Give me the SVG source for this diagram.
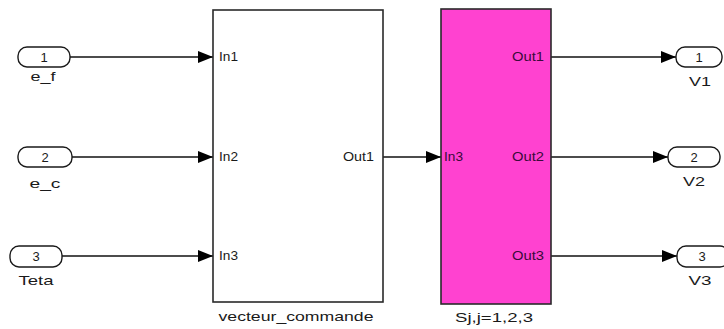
<svg xmlns="http://www.w3.org/2000/svg" width="724" height="329" viewBox="0 0 724 329">
  <defs>
    <style>
      .port { fill: #ffffff; stroke: #1a1a1a; stroke-width: 1.4; }
      .block { fill: #ffffff; stroke: #2a2a2a; stroke-width: 1.6; }
      .pink { fill: #ff42d0; stroke: #2a2a2a; stroke-width: 1.6; }
      .wire { fill: none; stroke: #111111; stroke-width: 1.3; marker-end: url(#arrow); }
      text { font-family: "Liberation Sans", Arial, sans-serif; fill: #1a1a1a; }
      .num { font-size: 13px; text-anchor: middle; }
      .lbl { font-size: 13.5px; text-anchor: middle; }
      .pin { font-size: 13px; }
      .pinr { font-size: 13px; text-anchor: end; }
      .pinp { font-size: 13px; fill: #3a0a3a; }
      .pinpr { font-size: 13px; fill: #3a0a3a; text-anchor: end; }
    </style>
    <marker id="arrow" viewBox="0 0 15 12" refX="15" refY="6" markerWidth="15" markerHeight="12" markerUnits="userSpaceOnUse" orient="auto">
      <path d="M0,0 L15,6 L0,12 Z" fill="#000000"/>
    </marker>
  </defs>

  <!-- signal lines -->
  <g id="connectors">
    <path class="wire" d="M70,57 H213"/>
    <path class="wire" d="M72,157 H213"/>
    <path class="wire" d="M62,256 H213"/>
    <path class="wire" d="M383,157 H441"/>
    <path class="wire" d="M551,57 H676"/>
    <path class="wire" d="M551,157 H668"/>
    <path class="wire" d="M551,256 H677"/>
  </g>

  <!-- inports -->
  <g id="in1">
    <rect class="port" x="18" y="47" width="52" height="20" rx="9" ry="9"/>
    <text class="num" x="44" y="62">1</text>
    <text class="lbl" x="43" y="81" textLength="25" lengthAdjust="spacingAndGlyphs">e_f</text>
  </g>
  <g id="in2">
    <rect class="port" x="18" y="147" width="54" height="20" rx="9" ry="9"/>
    <text class="num" x="45" y="162">2</text>
    <text class="lbl" x="45" y="188" textLength="31" lengthAdjust="spacingAndGlyphs">e_c</text>
  </g>
  <g id="in3">
    <rect class="port" x="10" y="246" width="52" height="21" rx="9" ry="9"/>
    <text class="num" x="36" y="261">3</text>
    <text class="lbl" x="36" y="285" textLength="35" lengthAdjust="spacingAndGlyphs">Teta</text>
  </g>

  <!-- subsystem: vecteur_commande -->
  <g id="vecteur_commande">
    <rect class="block" x="213" y="10" width="170" height="292"/>
    <text class="pin" x="219" y="61" textLength="19" lengthAdjust="spacingAndGlyphs">In1</text>
    <text class="pin" x="219" y="161" textLength="19" lengthAdjust="spacingAndGlyphs">In2</text>
    <text class="pin" x="219" y="260" textLength="19" lengthAdjust="spacingAndGlyphs">In3</text>
    <text class="pinr" x="374" y="161" textLength="31" lengthAdjust="spacingAndGlyphs">Out1</text>
    <text class="lbl" x="296" y="321" font-size="14" textLength="155" lengthAdjust="spacingAndGlyphs">vecteur_commande</text>
  </g>

  <!-- subsystem: Sj -->
  <g id="Sj">
    <rect class="pink" x="441" y="9" width="110" height="295"/>
    <text class="pinp" x="444" y="161" textLength="19" lengthAdjust="spacingAndGlyphs">In3</text>
    <text class="pinpr" x="544" y="61" textLength="32" lengthAdjust="spacingAndGlyphs">Out1</text>
    <text class="pinpr" x="544" y="161" textLength="32" lengthAdjust="spacingAndGlyphs">Out2</text>
    <text class="pinpr" x="544" y="260" textLength="32" lengthAdjust="spacingAndGlyphs">Out3</text>
    <text class="lbl" x="494" y="322" font-size="14" textLength="78" lengthAdjust="spacingAndGlyphs">Sj,j=1,2,3</text>
  </g>

  <!-- outports -->
  <g id="out1">
    <rect class="port" x="676" y="47" width="46" height="20" rx="9" ry="9"/>
    <text class="num" x="699" y="62">1</text>
    <text class="lbl" x="700" y="86" textLength="22" lengthAdjust="spacingAndGlyphs">V1</text>
  </g>
  <g id="out2">
    <rect class="port" x="668" y="147" width="52" height="20" rx="9" ry="9"/>
    <text class="num" x="694" y="162">2</text>
    <text class="lbl" x="694" y="186" textLength="22" lengthAdjust="spacingAndGlyphs">V2</text>
  </g>
  <g id="out3">
    <rect class="port" x="677" y="246" width="52" height="21" rx="9" ry="9"/>
    <text class="num" x="702" y="261">3</text>
    <text class="lbl" x="700" y="285" textLength="23" lengthAdjust="spacingAndGlyphs">V3</text>
  </g>
</svg>
